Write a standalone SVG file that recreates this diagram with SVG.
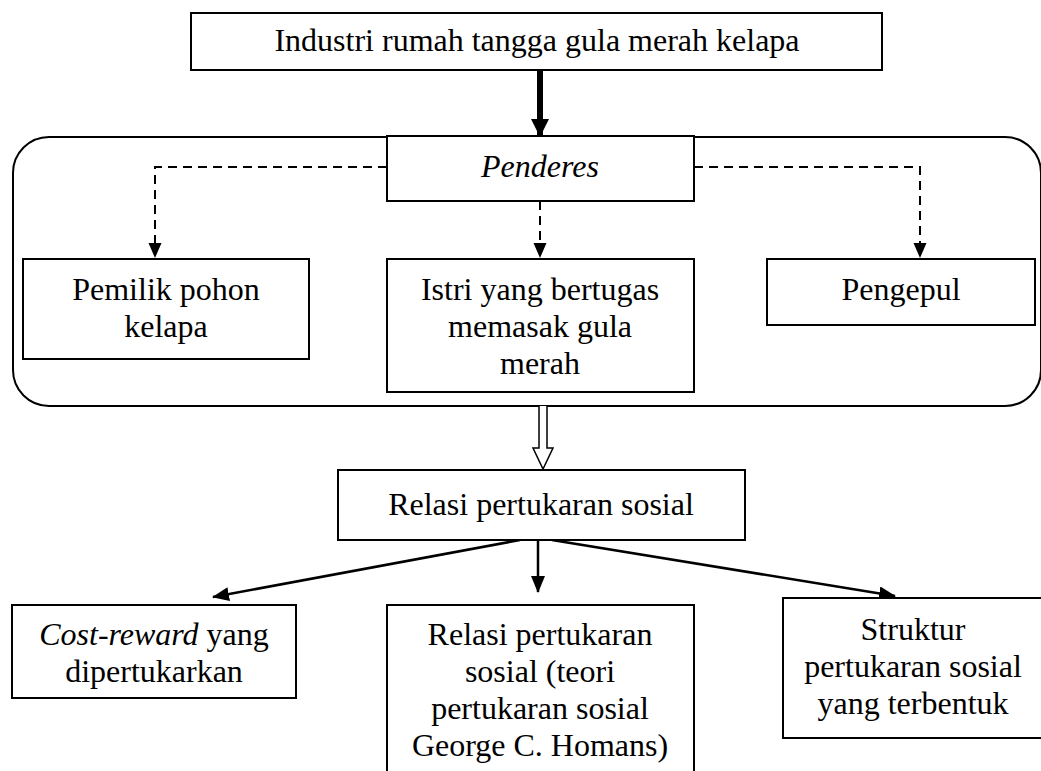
<svg xmlns="http://www.w3.org/2000/svg" width="1041" height="771" viewBox="0 0 1041 771">
<style>
.box{fill:#fff;stroke:#000;stroke-width:2}
.t{font-family:"Liberation Serif","Times New Roman",serif;font-size:32px;fill:#000;text-anchor:middle}
.dash{fill:none;stroke:#000;stroke-width:2;stroke-dasharray:9 6}
.ln{fill:none;stroke:#000;stroke-width:2.5}
</style>
<defs>
<marker id="ah" viewBox="0 0 17 14" refX="16" refY="7" markerWidth="17" markerHeight="14" markerUnits="userSpaceOnUse" orient="auto">
<path d="M0,0 L17,7 L0,14 Z" fill="#000"/>
</marker>
<marker id="ahb" viewBox="0 0 18 18" refX="17" refY="9" markerWidth="18" markerHeight="18" markerUnits="userSpaceOnUse" orient="auto">
<path d="M0,0 L18,9 L0,18 Z" fill="#000"/>
</marker>
</defs>
<rect width="1041" height="771" fill="#fff"/>
<g id="container"><rect x="13" y="137" width="1028" height="269" rx="36" ry="36" fill="none" stroke="#000" stroke-width="2"/></g>
<g id="connectors">
<line x1="540" y1="70" x2="540" y2="136" stroke="#000" stroke-width="6" marker-end="url(#ahb)"/>
<polyline class="dash" points="387,167 155,167 155,250"/>
<polyline class="dash" points="694,167 920,167 920,250"/>
<line class="dash" x1="540" y1="201" x2="540" y2="250"/>
<path d="M155,243 l-6.5,0 l6.5,15 l6.5,-15 z M920,243 l-6.5,0 l6.5,15 l6.5,-15 z M540,243 l-6.5,0 l6.5,15 l6.5,-15 z" fill="#000"/>
<path d="M539,406 L539,448 L533,448 L543,469 L553,448 L547,448 L547,406" fill="#fff" stroke="#000" stroke-width="1.5"/>
<line class="ln" x1="520" y1="540" x2="213" y2="597" marker-end="url(#ah)"/>
<line class="ln" x1="538" y1="540" x2="538" y2="592" marker-end="url(#ah)"/>
<line class="ln" x1="552" y1="540" x2="895" y2="596" marker-end="url(#ah)"/>
</g>
<g id="n-top"><rect class="box" x="191" y="13" width="691" height="57"/><text class="t" x="537" y="51">Industri rumah tangga gula merah kelapa</text></g>
<g id="n-penderes"><rect class="box" x="387" y="136" width="307" height="65"/><text class="t" x="540" y="177" font-style="italic">Penderes</text></g>
<g id="n-pemilik"><rect class="box" x="23" y="259" width="286" height="100"/><text class="t" x="166" y="300">Pemilik pohon</text><text class="t" x="166" y="337">kelapa</text></g>
<g id="n-istri"><rect class="box" x="387" y="259" width="307" height="133"/><text class="t" x="540" y="300">Istri yang bertugas</text><text class="t" x="540" y="337">memasak gula</text><text class="t" x="540" y="374">merah</text></g>
<g id="n-pengepul"><rect class="box" x="767" y="259" width="268" height="66"/><text class="t" x="901" y="300">Pengepul</text></g>
<g id="n-relasi"><rect class="box" x="338" y="470" width="407" height="70"/><text class="t" x="541" y="515">Relasi pertukaran sosial</text></g>
<g id="n-cost"><rect class="box" x="12" y="605" width="284" height="93"/><text class="t" x="154" y="645"><tspan font-style="italic">Cost-reward</tspan> yang</text><text class="t" x="154" y="682">dipertukarkan</text></g>
<g id="n-teori"><rect class="box" x="387" y="605" width="307" height="180"/><text class="t" x="540" y="645">Relasi pertukaran</text><text class="t" x="540" y="682">sosial (teori</text><text class="t" x="540" y="719">pertukaran sosial</text><text class="t" x="540" y="756">George C. Homans)</text></g>
<g id="n-struktur"><rect class="box" x="783" y="598" width="270" height="140"/><text class="t" x="913" y="640">Struktur</text><text class="t" x="913" y="677">pertukaran sosial</text><text class="t" x="913" y="714">yang terbentuk</text></g>
</svg>
